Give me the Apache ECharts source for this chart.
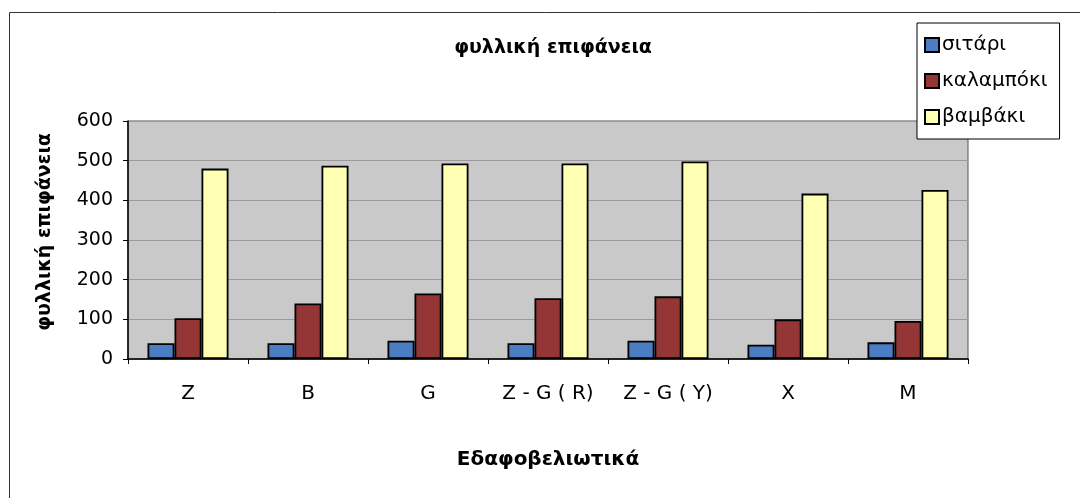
<!DOCTYPE html>
<html>
<head>
<meta charset="utf-8">
<script src="https://cdn.jsdelivr.net/npm/echarts@6/dist/echarts.min.js"></script>
<style>
html,body{margin:0;padding:0;background:#fff;}
#c{width:1080px;height:498px;}
</style>
</head>
<body>
<div id="c"></div>
<script>
const categories = ['Z', 'B', 'G', 'Z - G ( R)', 'Z - G ( Y)', 'X', 'M'];
const seriesNames = ['σιτάρι', 'καλαμπόκι', 'βαμβάκι'];
const sitari = [40, 40, 46, 40, 46, 36, 42];
const kalamboki = [103, 140, 165, 153, 158, 100, 96];
const vamvaki = [480, 487, 493, 493, 498, 417, 426];
const yTicks = [0, 100, 200, 300, 400, 500, 600];
const colors = ['#4a7dc4', '#943636', '#ffffb4'];

const FONT = '"DejaVu Sans", "Liberation Sans", Arial, sans-serif';
const chart = echarts.init(document.getElementById('c'));
const values = [sitari, kalamboki, vamvaki];

chart.setOption({
  animation: false,
  backgroundColor: '#ffffff',
  textStyle: { fontFamily: FONT, color: '#000' },
  graphic: [{
    type: 'rect', silent: true, z: -1,
    shape: { x: 9.5, y: 12.5, width: 1100, height: 520 },
    style: { fill: 'none', stroke: '#333', lineWidth: 1 }
  }],
  title: {
    text: 'φυλλική επιφάνεια',
    left: 548, top: 34, textAlign: 'center',
    textStyle: { fontFamily: FONT, fontSize: 19, fontWeight: 'bold', color: '#000' }
  },
  legend: {
    orient: 'vertical',
    left: 917, top: 23,
    padding: [12, 12, 12, 7],
    itemGap: 16,
    itemWidth: 14, itemHeight: 14,
    borderColor: '#000', borderWidth: 1,
    backgroundColor: '#fff',
    icon: 'rect',
    textStyle: { fontFamily: FONT, fontSize: 20, lineHeight: 20, color: '#000', padding: [0, 0, 0, -2] },
    data: seriesNames
  },
  grid: {
    left: 128, right: 112, top: 121, bottom: 139,
    show: true, backgroundColor: '#c9c9c9', borderColor: '#555', borderWidth: 1
  },
  xAxis: {
    type: 'category',
    data: categories,
    name: 'Εδαφοβελιωτικά',
    nameLocation: 'middle',
    nameGap: 91,
    nameTextStyle: { fontFamily: FONT, fontSize: 20, fontWeight: 'bold', color: '#000' },
    axisLine: { lineStyle: { color: '#000', width: 1.5 } },
    axisTick: { show: true, length: 5, lineStyle: { color: '#000' } },
    axisLabel: { fontFamily: FONT, fontSize: 20, color: '#000', margin: 25 }
  },
  yAxis: {
    type: 'value',
    min: 0, max: 600, interval: 100,
    name: 'φυλλική επιφάνεια',
    nameLocation: 'middle',
    nameGap: 73,
    nameRotate: 90,
    nameTextStyle: { fontFamily: FONT, fontSize: 19, fontWeight: 'bold', color: '#000', padding: [0, 0, 0, 16] },
    axisLine: { show: true, lineStyle: { color: '#000', width: 1.5 } },
    axisTick: { show: true, length: 5, lineStyle: { color: '#000' } },
    axisLabel: { fontFamily: FONT, fontSize: 19, color: '#000', margin: 15,
      formatter: v => yTicks.includes(v) ? String(v) : '' },
    splitLine: { show: true, lineStyle: { color: '#9a9a9a', width: 1 } }
  },
  series: seriesNames.map((n, i) => ({
    name: n,
    type: 'bar',
    data: values[i],
    barWidth: 27,
    barGap: '0%',
    itemStyle: { color: colors[i], borderColor: '#000', borderWidth: 1.8 }
  }))
});
</script>
</body>
</html>
